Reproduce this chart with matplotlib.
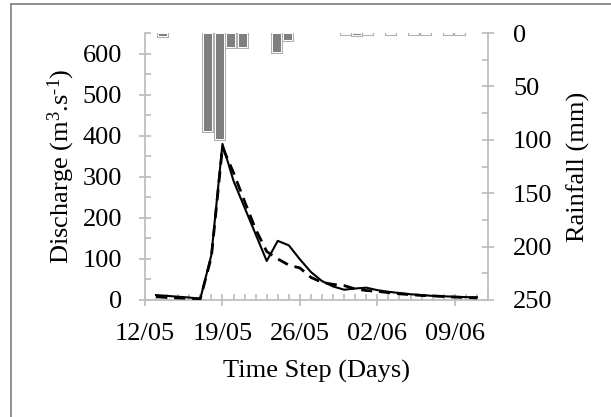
import matplotlib
matplotlib.use("Agg")
import matplotlib.pyplot as plt
import matplotlib.dates as mdates
from matplotlib.ticker import MultipleLocator, FixedLocator
from matplotlib.lines import Line2D
import datetime as dt

plt.rcParams['font.family'] = ['Liberation Serif', 'DejaVu Serif']
plt.rcParams['mathtext.default'] = 'regular'

# ---- data ----
start_date = dt.date(2010, 5, 12)
end_date = dt.date(2010, 6, 12)
obs_dates = [start_date + dt.timedelta(days=d) for d in range(1, 31)]
observed = [12, 10, 8, 6, 3, 110, 380, 290, 225, 160, 95, 144, 133, 99, 68,
            46, 33, 25, 28, 30, 24, 20, 17, 14, 12, 10, 9, 8, 7, 6.5]
simulated = [8, 6, 5, 4, 3, 105, 372, 310, 240, 172, 118, 100, 85, 78, 55,
             43, 38, 35, 27, 23, 21, 18, 15, 13, 11, 10, 8.5, 7, 6, 5]
rain_cat = list(range(30))
rainfall = [0, 3, 0, 0, 0, 92, 99, 13.5, 13.5, 0, 0, 17.5, 6.5, 0, 0,
            0, 0, 1, 1.5, 1, 0, 1, 0, 1, 1, 0, 1, 1, 0, 0]
xtick_dates = [start_date + dt.timedelta(days=7 * k) for k in range(5)]

rc = [c for c, r in zip(rain_cat, rainfall) if r > 0]
rv = [r for r in rainfall if r > 0]

W, H = 611, 417
fig = plt.figure(figsize=(W / 100, H / 100), dpi=100)
rect = [145 / W, 1 - 300 / H, (488 - 145) / W, (300 - 33) / H]

grey = '#bfbfbf'
fs = 19

# rainfall axis (behind)
axr = fig.add_axes(rect, frameon=True)
axr.bar(rc, rv, width=0.78, color='#7f7f7f', edgecolor='#b0b0b0', linewidth=2.2, zorder=2)
axr.bar(rc, rv, width=0.78, color='#7f7f7f', edgecolor='white', linewidth=0.7, zorder=3)
axr.set_xlim(-0.5, 29.5)
axr.set_ylim(250, 0)
axr.xaxis.set_visible(False)
axr.yaxis.tick_right()
axr.yaxis.set_label_position('right')
axr.yaxis.set_major_locator(MultipleLocator(50))
axr.yaxis.set_minor_locator(MultipleLocator(25))
for s in ['left', 'top', 'bottom']:
    axr.spines[s].set_visible(False)
axr.spines['right'].set_color(grey)
axr.spines['right'].set_linewidth(1.3)
axr.tick_params(axis='y', which='major', direction='inout', length=8, width=1.3, color=grey,
                labelsize=fs, pad=14)
axr.tick_params(axis='y', which='minor', direction='in', length=4, width=1.3, color=grey)
axr.set_ylabel('Rainfall (mm)', fontsize=fs, labelpad=10.5)

# discharge axis
ax = fig.add_axes(rect)
ax.patch.set_alpha(0)
ax.plot(obs_dates, observed, color='black', lw=1.5, zorder=5)
ax.plot(obs_dates, simulated, color='black', lw=2.0, dashes=(4, 2.5), zorder=4)
ax.set_xlim(start_date, end_date)
ax.set_ylim(0, 650)
ax.xaxis.set_major_locator(FixedLocator(mdates.date2num(xtick_dates)))
ax.xaxis.set_minor_locator(mdates.DayLocator())
ax.xaxis.set_major_formatter(mdates.DateFormatter('%d/%m'))
ax.yaxis.set_major_locator(FixedLocator([0, 100, 200, 300, 400, 500, 600]))
ax.yaxis.set_minor_locator(FixedLocator([50, 150, 250, 350, 450, 550, 650]))
for s in ['right', 'top']:
    ax.spines[s].set_visible(False)
for s in ['left', 'bottom']:
    ax.spines[s].set_color(grey)
    ax.spines[s].set_linewidth(1.3)
ax.tick_params(axis='both', which='major', direction='inout', length=8, width=1.3, color=grey,
               labelsize=fs)
ax.tick_params(axis='y', which='major', pad=12.5)
ax.tick_params(axis='x', which='major', pad=12.5)
ax.tick_params(axis='both', which='minor', direction='in', length=4, width=1.3, color=grey)
ax.set_ylabel('Discharge (m$^{3}$.s$^{\u20101}$)', fontsize=fs, labelpad=4)
ax.set_xlabel('Time Step (Days)', fontsize=fs, labelpad=11)

# outer chart border
fig.add_artist(Line2D([11 / W, 11 / W], [0, 1 - 4 / H], color='#888888', lw=1.3, transform=fig.transFigure))
fig.add_artist(Line2D([11 / W, 1], [1 - 4 / H, 1 - 4 / H], color='#888888', lw=1.3, transform=fig.transFigure))

fig.savefig('out.png', dpi=100)
